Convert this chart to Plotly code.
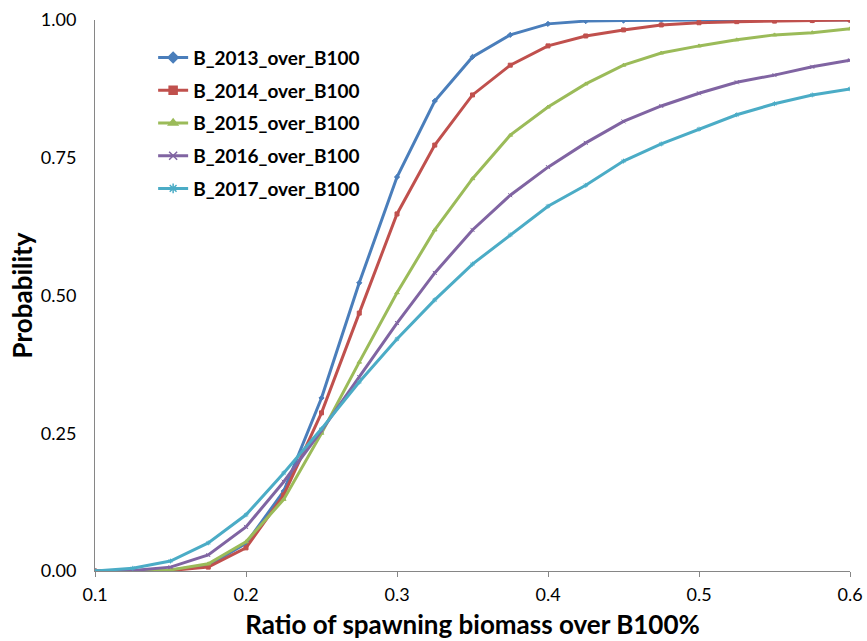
import plotly.graph_objects as go

x_vals = [0.1, 0.125, 0.15, 0.175, 0.2, 0.225, 0.25, 0.275, 0.3, 0.325, 0.35,
          0.375, 0.4, 0.425, 0.45, 0.475, 0.5, 0.525, 0.55, 0.575, 0.6]

b2013 = [0.0, 0.0, 0.002, 0.010, 0.050, 0.145, 0.314, 0.523, 0.715, 0.853, 0.933,
         0.973, 0.993, 0.998, 0.999, 1.0, 1.0, 1.0, 1.0, 1.0, 1.0]
b2014 = [0.0, 0.0, 0.001, 0.007, 0.042, 0.138, 0.287, 0.468, 0.648, 0.773, 0.864,
         0.918, 0.953, 0.971, 0.982, 0.991, 0.995, 0.997, 0.998, 0.999, 1.0]
b2015 = [0.0, 0.0, 0.002, 0.013, 0.053, 0.130, 0.250, 0.379, 0.505, 0.619, 0.712,
         0.791, 0.842, 0.884, 0.918, 0.940, 0.953, 0.964, 0.973, 0.977, 0.984]
b2016 = [0.0, 0.001, 0.007, 0.029, 0.080, 0.162, 0.255, 0.352, 0.450, 0.541, 0.619,
         0.682, 0.733, 0.777, 0.816, 0.844, 0.867, 0.887, 0.900, 0.915, 0.927]
b2017 = [0.0, 0.005, 0.018, 0.051, 0.102, 0.178, 0.258, 0.343, 0.421, 0.492, 0.557,
         0.610, 0.662, 0.700, 0.744, 0.775, 0.802, 0.828, 0.848, 0.864, 0.875]

series_names = ["B_2013_over_B100", "B_2014_over_B100", "B_2015_over_B100",
                "B_2016_over_B100", "B_2017_over_B100"]
series_vals = [b2013, b2014, b2015, b2016, b2017]
colors = ["#4A7EBB", "#C0504D", "#9BBB59", "#8064A2", "#4BACC6"]
symbols = ["diamond", "square", "triangle-up", "x-thin-open", "asterisk-open"]

x_ticks = [0.1, 0.2, 0.3, 0.4, 0.5, 0.6]
y_ticks = [0.0, 0.25, 0.5, 0.75, 1.0]
y_tick_text = ["0.00", "0.25", "0.50", "0.75", "1.00"]

fig = go.Figure()
for name, vals, c, s in zip(series_names, series_vals, colors, symbols):
    fig.add_trace(go.Scatter(
        x=x_vals, y=vals, mode="lines+markers", name=name, showlegend=False,
        line=dict(color=c, width=3),
        marker=dict(symbol=s, size=4, color=c, line=dict(color=c, width=1)),
    ))
for name, c, s in zip(series_names, colors, symbols):
    fig.add_trace(go.Scatter(
        x=[None], y=[None], mode="lines+markers", name=name, showlegend=True,
        legendgroup=name,
        line=dict(color=c, width=3),
        marker=dict(symbol=s, size=8, color=c, line=dict(color=c, width=1.5)),
    ))

fig.update_layout(
    width=867, height=641,
    paper_bgcolor="white", plot_bgcolor="white",
    margin=dict(l=95, r=17, t=20, b=70, autoexpand=False),
    font=dict(family="Lato, Open Sans, sans-serif", color="#000000"),
    legend=dict(x=0.077, y=0.966, xanchor="left", yanchor="top",
                font=dict(size=19, family="Lato", color="#000000", weight="bold"),
                tracegroupgap=5, itemwidth=30, bgcolor="rgba(0,0,0,0)"),
    xaxis=dict(
        range=[0.1, 0.6], tickvals=x_ticks, ticktext=[str(v) for v in x_ticks],
        automargin=False, ticklabeloverflow="allow",
        showgrid=False, zeroline=False, showline=True, linecolor="#868686", linewidth=1,
        ticks="outside", ticklen=5, tickcolor="#868686", ticklabelstandoff=2,
        tickfont=dict(size=18, family="Lato", color="#000000"),
        title=dict(text="<b>Ratio of spawning biomass over B100%</b>",
                   font=dict(size=26, family="Lato"), standoff=12),
    ),
    yaxis=dict(
        range=[0, 1.0], tickvals=y_ticks, ticktext=y_tick_text,
        automargin=False, ticklabeloverflow="allow",
        showgrid=False, zeroline=False, showline=True, linecolor="#868686", linewidth=1,
        ticks="", ticklabelstandoff=14,
        tickfont=dict(size=18, family="Lato", color="#000000"),
        title=dict(text="<b>Probability</b>", font=dict(size=26, family="Lato"), standoff=0),
    ),
)

fig.write_html("out.html", config={"displayModeBar": False})
with open("out.html", "r", encoding="utf-8") as f:
    html = f.read()
html = html.replace("<body>", '<body style="margin:0;padding:0;overflow:hidden">', 1)
with open("out.html", "w", encoding="utf-8") as f:
    f.write(html)
